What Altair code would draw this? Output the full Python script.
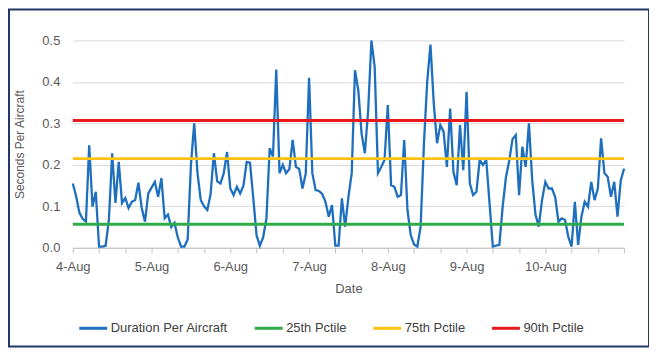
import altair as alt
import pandas as pd

# ---- data ----
start = pd.Timestamp("2023-08-04 00:00")
hours = list(range(169))
duration = [
    0.155, 0.125, 0.085, 0.070, 0.063, 0.247, 0.099, 0.135, 0.003, 0.003,
    0.005, 0.067, 0.228, 0.108, 0.207, 0.108, 0.120, 0.096, 0.111, 0.115,
    0.157, 0.096, 0.063, 0.131, 0.145, 0.159, 0.123, 0.168, 0.071, 0.080,
    0.050, 0.060, 0.025, 0.003, 0.003, 0.020, 0.200, 0.300, 0.180, 0.115,
    0.100, 0.091, 0.130, 0.228, 0.160, 0.155, 0.180, 0.231, 0.143, 0.127,
    0.147, 0.131, 0.150, 0.207, 0.205, 0.120, 0.030, 0.005, 0.025, 0.070,
    0.240, 0.220, 0.430, 0.180, 0.200, 0.180, 0.190, 0.260, 0.195, 0.190,
    0.143, 0.180, 0.410, 0.180, 0.139, 0.137, 0.130, 0.111, 0.075, 0.103,
    0.005, 0.005, 0.119, 0.051, 0.123, 0.180, 0.428, 0.380, 0.276, 0.228,
    0.330, 0.500, 0.436, 0.180, 0.195, 0.212, 0.344, 0.151, 0.147, 0.123,
    0.127, 0.260, 0.090, 0.030, 0.008, 0.003, 0.051, 0.250, 0.400, 0.490,
    0.348, 0.252, 0.296, 0.280, 0.195, 0.336, 0.183, 0.151, 0.296, 0.187,
    0.376, 0.155, 0.127, 0.135, 0.212, 0.200, 0.212, 0.107, 0.003, 0.005,
    0.007, 0.099, 0.170, 0.210, 0.262, 0.272, 0.127, 0.244, 0.195, 0.300,
    0.163, 0.080, 0.051, 0.115, 0.159, 0.143, 0.143, 0.123, 0.063, 0.071,
    0.067, 0.027, 0.003, 0.111, 0.007, 0.075, 0.111, 0.099, 0.159, 0.115,
    0.143, 0.264, 0.180, 0.171, 0.123, 0.159, 0.075, 0.163, 0.191,
]
series_names = ["Duration Per Aircraft", "25th Pctile", "75th Pctile", "90th Pctile"]
series_colors = ["#1f6fbf", "#2fab47", "#ffc20e", "#e8191c"]
pctile_values = [0.057, 0.215, 0.307]
y_ticks = [0.0, 0.1, 0.2, 0.3, 0.4, 0.5]
tick_hours = list(range(0, 169, 8))

dur_df = pd.DataFrame({
    "time": [start + pd.Timedelta(hours=h) for h in hours],
    "value": duration,
    "series": series_names[0],
})
pct_rows = []
for name, v in zip(series_names[1:], pctile_values):
    for h in (hours[0], hours[-1]):
        pct_rows.append({"time": start + pd.Timedelta(hours=h), "value": v, "series": name})
pct_df = pd.DataFrame(pct_rows)


def dt(h):
    t = start + pd.Timedelta(hours=h)
    return alt.DateTime(year=t.year, month=t.month, date=t.day, hours=t.hour)


text_color = "#595959"
x_enc = alt.X(
    "time:T",
    scale=alt.Scale(domain=[dt(0), dt(168)], nice=False),
    axis=alt.Axis(
        title="Date",
        values=[dt(h) for h in tick_hours],
        labelExpr="hours(datum.value) == 0 && date(datum.value) != 11 ? timeFormat(datum.value, '%-d-%b') : ''",
        grid=False,
        domainColor="#bfbfbf",
        tickColor="#bfbfbf",
        tickSize=5,
        labelAlign="center",
        labelPadding=8,
        labelFontSize=13,
        labelColor=text_color,
        titleFontSize=13,
        titleFontWeight="normal",
        titleColor=text_color,
        titlePadding=9,
        labelOverlap=False,
    ),
)
y_enc = alt.Y(
    "value:Q",
    scale=alt.Scale(domain=[0, 0.5], nice=False),
    axis=alt.Axis(
        title="Seconds Per Aircraft",
        values=y_ticks,
        format=".1f",
        grid=True,
        gridColor="#d9d9d9",
        domain=False,
        ticks=False,
        labelPadding=13,
        labelFontSize=13,
        labelColor=text_color,
        titleFontSize=12,
        titleFontWeight="normal",
        titleColor=text_color,
        titlePadding=15,
    ),
)
color_enc = alt.Color(
    "series:N",
    scale=alt.Scale(domain=series_names, range=series_colors),
    legend=alt.Legend(
        title=None,
        orient="none",
        legendX=5,
        legendY=273,
        direction="horizontal",
        columns=4,
        symbolType="stroke",
        symbolSize=784,
        symbolStrokeWidth=3,
        labelFontSize=13,
        labelColor="#404040",
        labelOffset=2,
        columnPadding=20,
    ),
)

border = alt.Chart(pd.DataFrame({"d": [0]})).mark_rect(
    filled=False, stroke="#1f3864", strokeWidth=2
).encode(
    x=alt.value(-64), x2=alt.value(578), y=alt.value(-31), y2=alt.value(307)
)

blue = alt.Chart(dur_df).mark_line(strokeWidth=2.3).encode(
    x=x_enc, y=y_enc, color=color_enc
)
pct = alt.Chart(pct_df).mark_line(strokeWidth=3).encode(
    x=x_enc, y=y_enc, color=color_enc, detail="series:N"
)

chart = alt.layer(border, blue, pct).properties(
    width=553,
    height=208,
    padding={"left": 65, "top": 32, "right": 25, "bottom": 100},
    autosize=alt.AutoSizeParams(type="none"),
).configure(font="Liberation Sans").configure_view(stroke=None)

chart.save("out.html", embed_options={"renderer": "svg", "actions": False})
